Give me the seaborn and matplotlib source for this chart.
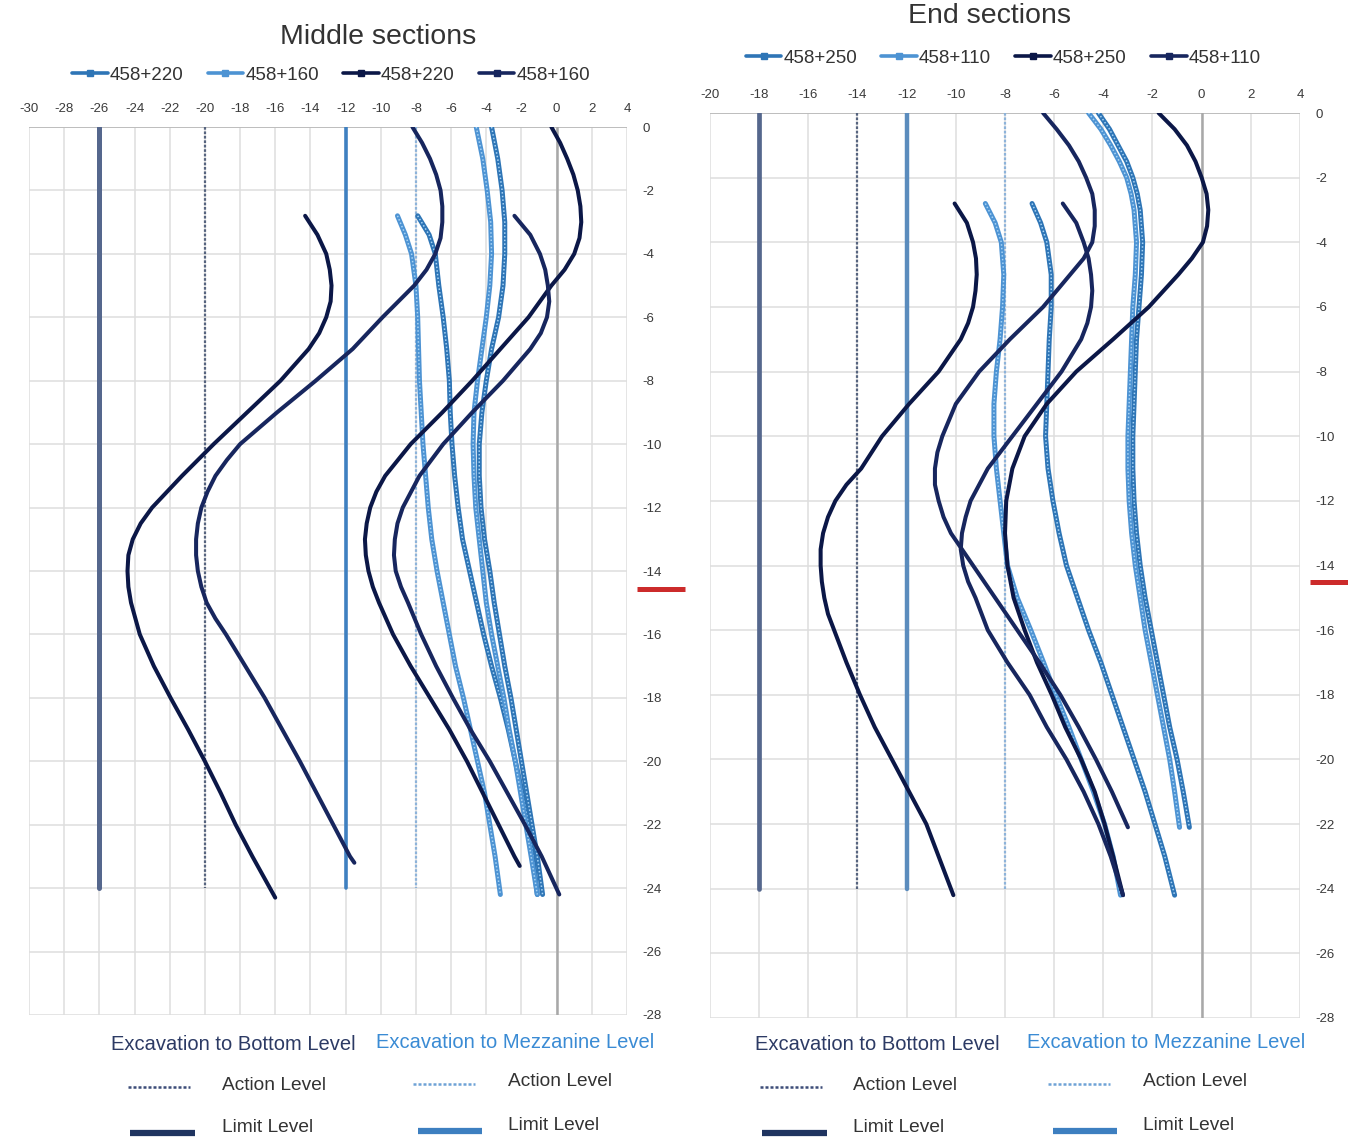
import numpy as np
import pandas as pd
import matplotlib
matplotlib.use("Agg")
import matplotlib.pyplot as plt
from matplotlib.lines import Line2D
from matplotlib.transforms import blended_transform_factory
from matplotlib import font_manager
import seaborn as sns

# ---------------------------------------------------------------- data
depth_top = [0, -1, -2, -3, -4, -5, -6, -7, -8, -9, -10, -11, -12,
             -13, -14, -15, -16, -17, -18, -19, -20, -21, -22, -23]
depth_mid = [-2.8, -3.4, -4, -5, -6, -7, -8, -9, -10, -11, -12,
             -13, -14, -15, -16, -17, -18, -19, -20, -21, -22, -23]

# Middle sections ---------------------------------------------------
mid_mezz_220_top_d = depth_top + [-24.2]
mid_mezz_220_top_x = [-3.7, -3.35, -3.1, -2.95, -2.95, -3.05, -3.3, -3.7, -4.0, -4.25, -4.4, -4.4,
                      -4.3, -4.1, -3.8, -3.55, -3.25, -2.95, -2.6, -2.3, -2.0, -1.7, -1.4, -1.1, -0.8]
mid_mezz_220_low_d = depth_mid + [-24.2]
mid_mezz_220_low_x = [-7.9, -7.25, -6.9, -6.7, -6.45, -6.25, -6.1, -6.05, -5.95, -5.8, -5.6,
                      -5.35, -4.95, -4.55, -4.15, -3.7, -3.2, -2.75, -2.35, -1.95, -1.6, -1.35, -1.1]
mid_mezz_160_top_d = depth_top + [-24.2]
mid_mezz_160_top_x = [-4.57, -4.2, -3.95, -3.75, -3.7, -3.8, -4.0, -4.25, -4.5, -4.7, -4.75, -4.7,
                      -4.6, -4.4, -4.2, -4.0, -3.7, -3.35, -3.0, -2.7, -2.35, -2.05, -1.75, -1.45, -1.1]
mid_mezz_160_low_d = depth_mid + [-24.2]
mid_mezz_160_low_x = [-9.05, -8.6, -8.25, -8.0, -7.9, -7.85, -7.8, -7.7, -7.6, -7.45, -7.3,
                      -7.1, -6.8, -6.45, -6.1, -5.75, -5.3, -4.9, -4.5, -4.1, -3.8, -3.5, -3.2]

mid_bot_220_top_d = [0, -0.5, -1, -1.5, -2, -2.5, -3, -3.5, -4, -4.5, -5, -5.5, -6, -7, -8, -9,
                     -10, -11, -11.5, -12, -12.5, -13, -13.5, -14, -14.5, -15, -16, -17, -18,
                     -19, -20, -21, -22, -23, -23.3]
mid_bot_220_top_x = [-0.3, 0.2, 0.6, 0.95, 1.2, 1.35, 1.4, 1.3, 1.0, 0.45, -0.3, -0.95, -1.6,
                     -3.2, -4.8, -6.5, -8.3, -9.75, -10.25, -10.6, -10.8, -10.9, -10.85, -10.7,
                     -10.45, -10.1, -9.3, -8.3, -7.2, -6.1, -5.1, -4.2, -3.3, -2.4, -2.1]
mid_bot_220_low_d = [-2.8, -3.4, -4, -4.5, -5, -5.5, -6, -6.5, -7, -8, -9, -10, -11, -12, -12.5,
                     -13, -13.5, -14, -14.5, -15, -15.5, -16, -17, -18, -19, -20, -21, -22, -23,
                     -24, -24.3]
mid_bot_220_low_x = [-14.3, -13.6, -13.1, -12.9, -12.8, -12.85, -13.1, -13.5, -14.1, -15.7,
                     -17.6, -19.5, -21.3, -23.0, -23.65, -24.1, -24.35, -24.4, -24.35, -24.2,
                     -23.95, -23.7, -22.9, -21.95, -20.95, -20.0, -19.1, -18.25, -17.3, -16.3, -16.0]
mid_bot_160_top_d = [0, -0.5, -1, -1.5, -2, -2.5, -3, -3.5, -4, -4.5, -5, -6, -7, -8, -9, -10,
                     -10.5, -11, -11.5, -12, -12.5, -13, -13.5, -14, -14.5, -15, -15.5, -16, -17,
                     -18, -19, -20, -21, -22, -23, -23.2]
mid_bot_160_top_x = [-8.2, -7.65, -7.2, -6.85, -6.6, -6.5, -6.5, -6.6, -6.9, -7.4, -8.1, -9.9,
                     -11.6, -13.7, -15.9, -18.0, -18.75, -19.4, -19.85, -20.2, -20.4, -20.5, -20.5,
                     -20.4, -20.2, -19.9, -19.4, -18.8, -17.7, -16.6, -15.6, -14.6, -13.65, -12.7,
                     -11.75, -11.5]
mid_bot_160_low_d = [-2.8, -3.4, -4, -4.5, -5, -5.5, -6, -6.5, -7, -8, -9, -10, -11, -12, -12.5,
                     -13, -13.5, -14, -14.5, -15, -16, -17, -18, -19, -20, -21, -22, -23, -24.2]
mid_bot_160_low_x = [-2.4, -1.5, -0.95, -0.65, -0.5, -0.42, -0.55, -0.9, -1.5, -3.05, -4.8,
                     -6.45, -7.8, -8.75, -9.05, -9.2, -9.25, -9.15, -8.85, -8.45, -7.7, -6.85,
                     -5.9, -4.9, -3.8, -2.8, -1.8, -0.85, 0.15]

# End sections ------------------------------------------------------
end_top_d = [0, -0.5, -1, -1.5, -2, -2.5, -3, -4, -5, -6, -7, -8, -9, -10, -11, -12, -13,
             -14, -15, -16, -17, -18, -19, -20, -21, -22.1]
end_mezz_250_top_d = end_top_d
end_mezz_250_top_x = [-4.2, -3.75, -3.4, -3.05, -2.8, -2.62, -2.5, -2.4, -2.45, -2.55, -2.65,
                      -2.7, -2.75, -2.8, -2.8, -2.75, -2.65, -2.5, -2.3, -2.05, -1.8, -1.55,
                      -1.3, -1.0, -0.75, -0.5]
end_mezz_250_low_d = depth_mid + [-24.2]
end_mezz_250_low_x = [-6.9, -6.55, -6.3, -6.12, -6.12, -6.2, -6.25, -6.3, -6.35, -6.25, -6.05,
                      -5.8, -5.5, -5.05, -4.6, -4.1, -3.65, -3.2, -2.75, -2.3, -1.9, -1.5, -1.1]
end_mezz_110_top_d = end_top_d
end_mezz_110_top_x = [-4.6, -4.1, -3.7, -3.35, -3.05, -2.87, -2.75, -2.65, -2.7, -2.8, -2.85,
                      -2.9, -2.95, -3.0, -3.0, -2.95, -2.85, -2.7, -2.5, -2.3, -2.05, -1.8,
                      -1.55, -1.3, -1.1, -0.9]
end_mezz_110_low_d = depth_mid + [-24.2]
end_mezz_110_low_x = [-8.8, -8.4, -8.15, -8.05, -8.1, -8.2, -8.35, -8.45, -8.45, -8.35, -8.2,
                      -8.05, -7.9, -7.5, -6.95, -6.43, -5.93, -5.4, -4.9, -4.4, -3.95, -3.6, -3.3]

end_bot_250_top_d = [0, -0.5, -1, -1.5, -2, -2.5, -3, -3.5, -4, -4.5, -5, -6, -7, -8, -9, -10,
                     -11, -12, -13, -14, -15, -16, -17, -18, -19, -20, -21, -22, -23, -24.2]
end_bot_250_top_x = [-1.75, -1.1, -0.6, -0.25, 0.0, 0.2, 0.27, 0.22, 0.05, -0.4, -0.95, -2.15,
                     -3.6, -5.1, -6.3, -7.2, -7.7, -7.95, -8.0, -7.9, -7.65, -7.2, -6.7, -6.1,
                     -5.55, -4.9, -4.35, -3.95, -3.6, -3.2]
end_bot_250_low_d = [-2.8, -3.4, -4, -4.5, -5, -5.5, -6, -6.5, -7, -8, -9, -10, -11, -11.5, -12,
                     -12.5, -13, -13.5, -14, -14.5, -15, -15.5, -16, -17, -18, -19, -20, -21,
                     -22, -23, -24.2]
end_bot_250_low_x = [-10.05, -9.55, -9.3, -9.18, -9.15, -9.2, -9.3, -9.5, -9.8, -10.7, -11.9,
                     -13.0, -13.85, -14.45, -14.9, -15.2, -15.4, -15.5, -15.5, -15.45, -15.35,
                     -15.2, -14.95, -14.45, -13.9, -13.3, -12.6, -11.9, -11.2, -10.7, -10.1]
end_bot_110_top_d = [0, -0.5, -1, -1.5, -2, -2.5, -3, -3.5, -4, -4.5, -5, -6, -7, -8, -9, -10,
                     -10.5, -11, -11.5, -12, -12.5, -13, -14, -15, -16, -17, -18, -19, -20, -21,
                     -22.1]
end_bot_110_top_x = [-6.45, -5.9, -5.4, -5.0, -4.7, -4.45, -4.35, -4.35, -4.45, -4.8, -5.35,
                     -6.45, -7.8, -9.05, -10.0, -10.55, -10.75, -10.85, -10.85, -10.7, -10.5,
                     -10.2, -9.3, -8.4, -7.5, -6.6, -5.75, -5.0, -4.3, -3.65, -3.0]
end_bot_110_low_d = [-2.8, -3.4, -4, -4.5, -5, -5.5, -6, -6.5, -7, -8, -9, -10, -11, -12, -12.5,
                     -13, -13.5, -14, -14.5, -15, -16, -17, -18, -19, -20, -21, -22, -23, -24.2]
end_bot_110_low_x = [-5.65, -5.1, -4.8, -4.6, -4.5, -4.45, -4.5, -4.65, -4.9, -5.7, -6.7, -7.7,
                     -8.7, -9.4, -9.6, -9.75, -9.8, -9.7, -9.5, -9.2, -8.7, -7.9, -7.0, -6.3,
                     -5.5, -4.8, -4.2, -3.7, -3.2]

# alert levels (horizontal displacement) and their depth range
mid_levels = {"bottom_limit": -26, "bottom_action": -20, "mezz_limit": -12, "mezz_action": -8}
end_levels = {"bottom_limit": -18, "bottom_action": -14, "mezz_limit": -12, "mezz_action": -8}
level_depth = [0, -24]
mark_depth = {"mid": -14.57, "end": -14.5}

mid_ticks = list(range(-30, 5, 2))
end_ticks = list(range(-20, 5, 2))
y_ticks = list(range(0, -29, -2))

mid_labels = ["458+220", "458+160", "458+220", "458+160"]
end_labels = ["458+250", "458+110", "458+250", "458+110"]

# ---------------------------------------------------------------- table
curves = [
    ("mid", "mezz_a", "top", mid_mezz_220_top_d, mid_mezz_220_top_x),
    ("mid", "mezz_a", "low", mid_mezz_220_low_d, mid_mezz_220_low_x),
    ("mid", "mezz_b", "top", mid_mezz_160_top_d, mid_mezz_160_top_x),
    ("mid", "mezz_b", "low", mid_mezz_160_low_d, mid_mezz_160_low_x),
    ("mid", "bot_a", "top", mid_bot_220_top_d, mid_bot_220_top_x),
    ("mid", "bot_a", "low", mid_bot_220_low_d, mid_bot_220_low_x),
    ("mid", "bot_b", "top", mid_bot_160_top_d, mid_bot_160_top_x),
    ("mid", "bot_b", "low", mid_bot_160_low_d, mid_bot_160_low_x),
    ("end", "mezz_a", "top", end_mezz_250_top_d, end_mezz_250_top_x),
    ("end", "mezz_a", "low", end_mezz_250_low_d, end_mezz_250_low_x),
    ("end", "mezz_b", "top", end_mezz_110_top_d, end_mezz_110_top_x),
    ("end", "mezz_b", "low", end_mezz_110_low_d, end_mezz_110_low_x),
    ("end", "bot_a", "top", end_bot_250_top_d, end_bot_250_top_x),
    ("end", "bot_a", "low", end_bot_250_low_d, end_bot_250_low_x),
    ("end", "bot_b", "top", end_bot_110_top_d, end_bot_110_top_x),
    ("end", "bot_b", "low", end_bot_110_low_d, end_bot_110_low_x),
]
rows = []
for panel, series, piece, d, x in curves:
    assert len(d) == len(x), (panel, series, piece, len(d), len(x))
    for i, (dd, xx) in enumerate(zip(d, x)):
        rows.append(dict(panel=panel, series=series, piece=piece, order=i, depth=dd, disp=xx))
df = pd.DataFrame(rows)

# ---------------------------------------------------------------- style
sns.set_theme(style="white")
names = {f.name for f in font_manager.fontManager.ttflist}
FONT = "Liberation Sans Narrow" if "Liberation Sans Narrow" in names else "Liberation Sans"
plt.rcParams["font.family"] = [FONT, "DejaVu Sans"]
plt.rcParams["axes.unicode_minus"] = False

W, H = 1348, 1138
fig = plt.figure(figsize=(W / 100, H / 100), dpi=100)
fig.patch.set_facecolor("white")

colors = {"mezz_a": "#2e75b6", "mezz_b": "#4d93d3", "bot_a": "#0b1747", "bot_b": "#17265e"}
lvl_style = {
    "mid": {
        "bottom_limit": dict(color="#55678d", lw=3.6, ls="-"),
        "bottom_action": dict(color="#56647f", lw=1.6, ls=(0, (1.2, 0.8))),
        "mezz_limit": dict(color="#3f80c0", lw=2.6, ls="-"),
        "mezz_action": dict(color="#8db3da", lw=1.6, ls=(0, (1.2, 0.8))),
    },
    "end": {
        "bottom_limit": dict(color="#55678d", lw=3.4, ls="-"),
        "bottom_action": dict(color="#56647f", lw=1.6, ls=(0, (1.2, 0.8))),
        "mezz_limit": dict(color="#5b8cbd", lw=3.2, ls="-"),
        "mezz_action": dict(color="#8db3da", lw=1.6, ls=(0, (1.2, 0.8))),
    },
}


def fx(px):
    return px / W


def fy(py):
    return 1 - py / H


def draw_panel(ax, panel, levels, xticks, labels, legend_y, legend_x, mark_x):
    ax.set_xlim(xticks[0], xticks[-1])
    ax.set_ylim(-28, 0)
    ax.set_xticks(xticks)
    ax.set_yticks(y_ticks)
    ax.set_xticklabels([str(t) for t in xticks])
    ax.set_yticklabels([str(t) for t in y_ticks])
    ax.xaxis.tick_top()
    ax.yaxis.tick_right()
    ax.tick_params(axis="x", length=0, pad=9, labelsize=9.5, labelcolor="#3a3a3a")
    ax.tick_params(axis="y", length=0, pad=11, labelsize=9.5, labelcolor="#3a3a3a")
    for lab in ax.get_yticklabels():
        lab.set_horizontalalignment("left")
    ax.grid(True, color="#dedede", lw=1.1)
    ax.set_axisbelow(True)
    for s in ax.spines.values():
        s.set_visible(False)
    ax.axhline(0, color="#bdbdbd", lw=1.4, zorder=1)
    ax.axvline(0, color="#a8a8a8", lw=1.8, zorder=1)

    for key, xv in levels.items():
        st = lvl_style[panel][key]
        ax.plot([xv, xv], level_depth, color=st["color"], lw=st["lw"], ls=st["ls"], zorder=2)

    sub = df[df.panel == panel]
    for series in ["mezz_a", "mezz_b", "bot_a", "bot_b"]:
        for piece in ["top", "low"]:
            c = sub[(sub.series == series) & (sub.piece == piece)].sort_values("order")
            light = series.startswith("mezz")
            sns.lineplot(data=c, x="disp", y="depth", sort=False, estimator=None, ax=ax,
                         color=colors[series], lw=3.6 if light else 2.9,
                         legend=False, zorder=4 if light else 5,
                         solid_joinstyle="round", solid_capstyle="round")
            if light:
                ax.plot(c.disp, c.depth, color="#a9d4f5", lw=1.1, ls=(0, (1, 1.4)), zorder=4)
    ax.set_xlabel("")
    ax.set_ylabel("")

    handles = [Line2D([], [], color=colors[s], lw=2.6, marker="s", markersize=4.5)
               for s in ["mezz_a", "mezz_b", "bot_a", "bot_b"]]
    ax.legend(handles, labels, ncol=4, loc="center", bbox_to_anchor=(legend_x, legend_y),
              frameon=False, fontsize=13.5, handlelength=1.9, handletextpad=0.1,
              columnspacing=1.3, labelcolor="#333333")

    tr = blended_transform_factory(ax.transAxes, ax.transData)
    ax.plot(mark_x, [mark_depth[panel]] * 2, transform=tr, clip_on=False,
            color="#cc2b2b", lw=3.6, solid_capstyle="butt")


axL = fig.add_axes([fx(29), fy(1015), fx(627) - fx(29), fy(127) - fy(1015)])
axR = fig.add_axes([fx(710), fy(1018), fx(1300) - fx(710), fy(113) - fy(1018)])

draw_panel(axL, "mid", mid_levels, mid_ticks, mid_labels, 1.0586, 0.505, [1.017, 1.097])
draw_panel(axR, "end", end_levels, end_ticks, end_labels, 1.0608, 0.497, [1.017, 1.081])

fig.text(fx(378), fy(37), "Middle sections", ha="center", va="center", fontsize=20.5, color="#333333")
fig.text(fx(990), fy(16), "End sections", ha="center", va="center", fontsize=20.5, color="#333333")


def bottom_legend(hdr1_x, hdr2_x, dl_x, t1_x, dm_x, t2_x):
    fh, fs = 14.5, 13.8
    fig.text(fx(hdr1_x), fy(1045), "Excavation to Bottom Level", ha="center", va="center",
             fontsize=fh, color="#2c3a64")
    fig.text(fx(hdr2_x), fy(1043), "Excavation to Mezzanine Level", ha="center", va="center",
             fontsize=fh, color="#3a8bd4")
    fig.add_artist(Line2D([fx(dl_x), fx(dl_x + 62)], [fy(1087), fy(1087)], color="#3c4c78",
                          lw=1.8, ls=(0, (1.2, 0.8))))
    fig.text(fx(t1_x), fy(1085), "Action Level", ha="left", va="center", fontsize=fs, color="#333333")
    fig.add_artist(Line2D([fx(dm_x), fx(dm_x + 62)], [fy(1084), fy(1084)], color="#6fa2d6",
                          lw=1.8, ls=(0, (1.2, 0.8))))
    fig.text(fx(t2_x), fy(1081), "Action Level", ha="left", va="center", fontsize=fs, color="#333333")
    fig.add_artist(Line2D([fx(dl_x + 2), fx(dl_x + 67)], [fy(1133), fy(1133)], color="#1f3460",
                          lw=4.5, solid_capstyle="butt"))
    fig.text(fx(t1_x), fy(1128), "Limit Level", ha="left", va="center", fontsize=fs, color="#333333")
    fig.add_artist(Line2D([fx(dm_x + 5), fx(dm_x + 69)], [fy(1131), fy(1131)], color="#3d7fc0",
                          lw=4.5, solid_capstyle="butt"))
    fig.text(fx(t2_x), fy(1125), "Limit Level", ha="left", va="center", fontsize=fs, color="#333333")


bottom_legend(233, 515, 128, 222, 413, 508)
bottom_legend(877, 1166, 760, 853, 1048, 1143)

fig.savefig("out.png", dpi=100, facecolor="white")
